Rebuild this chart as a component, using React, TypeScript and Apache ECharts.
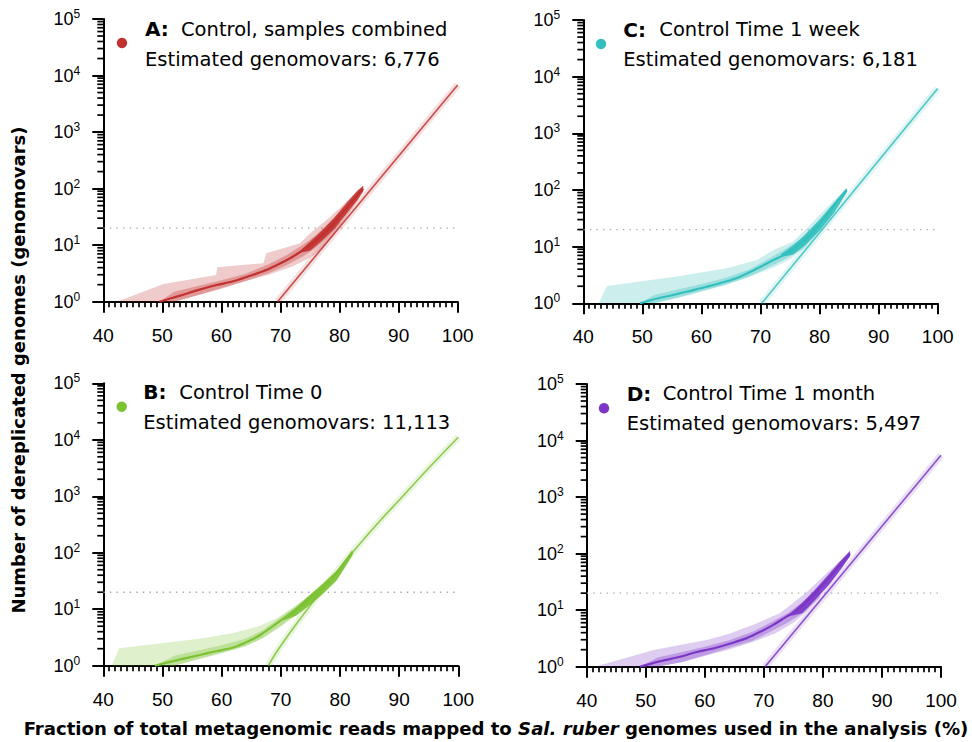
import React, { useEffect, useRef } from "react";
import * as echarts from "echarts";

type P = [number, number];

// ---------- axis / reference data ----------
const xMin = 40;
const xMax = 100;
const xStep = 10;
const yMin = 1;
const yMax = 100000;
const minorMultipliers = [2, 3, 4, 5, 6, 7, 8, 9];
const minorDecades = [1, 10, 100, 1000, 10000];
const refLevel = 20;

// ---------- panel texts ----------
const panelLetters = ["A:", "C:", "B:", "D:"];
const panelNames = ["Control, samples combined", "Control Time 1 week", "Control Time 0", "Control Time 1 month"];
const panelEstimates = ["6,776", "6,181", "11,113", "5,497"];
const panelColors = ["#c1312f", "#33bfbd", "#7cc233", "#7b36c6"];

// ---------- Panel A: Control, samples combined ----------
const aMain: P[] = [[49.5, 1], [53, 1.28], [56, 1.6], [59, 1.95], [62, 2.3], [65, 2.9], [68, 3.8], [71, 5.4], [73, 7.2], [75, 10], [77, 15], [79, 24], [81, 43], [83, 76], [84, 100]];
const aOuterUp: P[] = [[42.3, 1], [50.2, 2.06], [59.1, 2.97], [59.3, 4.06], [67.1, 4.8], [67.6, 7.2], [73.3, 10.8], [75, 16], [77.8, 28], [80, 45], [82, 72], [84, 108]];
const aOuterLo: P[] = [[42.3, 1], [52, 1], [56, 1.3], [60, 1.75], [64, 2.3], [68, 3], [72, 4.2], [75, 6], [77, 8.5], [79, 15], [81, 30], [83, 60], [84, 90]];
const aMidUp: P[] = [[49.5, 1], [52, 1.5], [56, 1.9], [60, 2.4], [64, 3.1], [68, 4.6], [71, 6.6], [74, 10.5], [76, 15], [78, 24], [80, 38]];
const aMidLo: P[] = [[49.5, 1], [52, 1], [56, 1.3], [60, 1.7], [64, 2.3], [68, 3.2], [71, 4.4], [74, 6.5], [76, 9], [78, 14], [80, 24]];
const aCloudUp: P[] = [[73.5, 8.3], [75, 11.5], [77, 18], [79, 29.5], [81, 53], [83, 92], [84, 112]];
const aCloudLo: P[] = [[73.5, 7.4], [75, 8], [77, 12], [79, 19], [81, 34], [83, 62], [84, 90]];
const aFit: P[] = [[69.5, 1], [100, 6776]];

// ---------- Panel C: Control Time 1 week ----------
const cMain: P[] = [[49.6, 1], [52, 1.18], [55.2, 1.4], [58, 1.65], [60.9, 1.96], [64, 2.4], [66.5, 2.95], [69.4, 4.1], [72.2, 5.8], [75, 8.2], [77.8, 14], [80.6, 30], [82.5, 55], [84.6, 100]];
const cOuterUp: P[] = [[42.6, 1], [44, 2.02], [56.4, 3.03], [64.3, 4.15], [69.4, 5.8], [72.2, 8.7], [75.5, 12.3], [77.8, 21], [82.3, 64], [84.6, 106]];
const cOuterLo: P[] = [[42.6, 1], [52, 1], [56, 1.25], [60, 1.6], [64, 2.1], [68, 2.9], [72, 4.2], [75, 6], [77.5, 9.5], [80, 19], [82.5, 42], [84.6, 92]];
const cMidUp: P[] = [[49.6, 1], [52, 1.4], [56, 1.75], [60, 2.2], [64, 2.8], [68, 3.9], [71, 5.8], [74, 8.8], [77, 14], [79.5, 26]];
const cMidLo: P[] = [[49.6, 1], [52, 1], [56, 1.25], [60, 1.65], [64, 2.1], [68, 2.9], [71, 4.1], [74, 5.9], [77, 9], [79.5, 17]];
const cCloudUp: P[] = [[73.5, 7.4], [75.5, 10.5], [77.5, 16], [80, 30], [82.5, 60], [84.6, 110]];
const cCloudLo: P[] = [[73.5, 6.6], [75.5, 7.2], [77.5, 10.5], [80, 19], [82.5, 40], [84.6, 90]];
const cFit: P[] = [[70.2, 1], [100, 6181]];

// ---------- Panel B: Control Time 0 ----------
const bMain: P[] = [[48.7, 1], [52, 1.22], [56.3, 1.55], [59, 1.8], [62, 2.1], [64.5, 2.7], [66.5, 3.5], [69.9, 6.2], [73.2, 11], [76.1, 20], [78.9, 37], [80.5, 60], [82.1, 102]];
const bOuterUp: P[] = [[41.4, 1], [42.7, 2.03], [56.9, 3.05], [62, 3.8], [66, 4.9], [69.3, 6.9], [72, 10.5], [74.4, 15.5], [77, 26], [80, 52], [82.1, 108]];
const bOuterLo: P[] = [[41.4, 1], [52, 1], [56, 1.3], [60, 1.65], [64, 2.2], [67, 3.1], [70, 4.9], [73, 8.3], [76, 14.5], [79, 28], [81, 56], [82.1, 92]];
const bMidUp: P[] = [[48.7, 1], [52, 1.5], [56, 1.85], [60, 2.3], [64, 3], [67, 4.3], [70, 7.3], [73, 12.5], [76, 22]];
const bMidLo: P[] = [[48.7, 1], [52, 1], [56, 1.3], [60, 1.7], [64, 2.2], [67, 3.1], [70, 5.1], [73, 8.8], [76, 16]];
const bCloudUp: P[] = [[70.5, 7.2], [72.5, 10.5], [74.5, 16.5], [77, 28], [79.5, 49], [82.1, 112]];
const bCloudLo: P[] = [[70.5, 6.4], [72.5, 7.6], [74.5, 11], [77, 18.5], [79.5, 33], [82.1, 90]];
const bFit: P[] = [[67.9, 1], [69, 1.58], [70.5, 2.69], [72.5, 5.25], [75, 11.7], [78, 29.5], [82, 97.7], [86.8, 372], [90, 851], [95, 3162], [100, 11113]];

// ---------- Panel D: Control Time 1 month ----------
const dMain: P[] = [[49, 1], [52, 1.22], [55.8, 1.5], [58.5, 1.8], [61.4, 2.1], [64.5, 2.6], [67.1, 3.2], [69.5, 4.2], [71.6, 5.5], [73.5, 7.3], [75.6, 10], [78.4, 18.6], [81.2, 39], [83, 65], [84.6, 100]];
const dOuterUp: P[] = [[41.4, 1], [51.3, 1.97], [60.3, 2.96], [64, 3.8], [68.2, 5.5], [72.7, 8.8], [77.3, 21], [80, 39], [82.5, 68], [84.6, 108]];
const dOuterLo: P[] = [[41.4, 1], [52, 1], [56, 1.2], [60, 1.55], [64, 2], [68, 2.7], [72, 3.9], [75, 6], [77, 9], [79, 16], [81.5, 33], [84.6, 92]];
const dMidUp: P[] = [[49, 1], [52, 1.45], [56, 1.8], [60, 2.25], [64, 2.9], [68, 4.1], [71, 5.9], [74, 8.8], [77, 15], [79.5, 27]];
const dMidLo: P[] = [[49, 1], [52, 1], [56, 1.2], [60, 1.6], [64, 2.15], [68, 2.85], [71, 4.1], [74, 6], [77, 9.5], [79.5, 17]];
const dCloudUp: P[] = [[74.5, 8.8], [76.5, 13.5], [78.5, 22], [81, 43], [83, 75], [84.6, 112]];
const dCloudLo: P[] = [[74.5, 7.9], [76.5, 8.8], [78.5, 14.5], [81, 28], [83, 52], [84.6, 90]];
const dFit: P[] = [[70.2, 1], [100, 5497]];

const panels = [
  { main: aMain, outerUp: aOuterUp, outerLo: aOuterLo, midUp: aMidUp, midLo: aMidLo, cloudUp: aCloudUp, cloudLo: aCloudLo, fit: aFit },
  { main: cMain, outerUp: cOuterUp, outerLo: cOuterLo, midUp: cMidUp, midLo: cMidLo, cloudUp: cCloudUp, cloudLo: cCloudLo, fit: cFit },
  { main: bMain, outerUp: bOuterUp, outerLo: bOuterLo, midUp: bMidUp, midLo: bMidLo, cloudUp: bCloudUp, cloudLo: bCloudLo, fit: bFit },
  { main: dMain, outerUp: dOuterUp, outerLo: dOuterLo, midUp: dMidUp, midLo: dMidLo, cloudUp: dCloudUp, cloudLo: dCloudLo, fit: dFit },
];

// ---------- layout (positions only) ----------
const grids = [
  { left: 103.3, top: 19, width: 354.4, height: 282.7 },
  { left: 583.3, top: 20, width: 354.4, height: 283.3 },
  { left: 103.3, top: 383.3, width: 355, height: 282.4 },
  { left: 586.7, top: 384, width: 354.3, height: 282.7 },
];
const headerPos = [
  { x: 145, y1: 29, y2: 59, dx: 122, dy: 43 },
  { x: 623.3, y1: 29.5, y2: 59.5, dx: 601, dy: 44 },
  { x: 143.3, y1: 392, y2: 422, dx: 121.7, dy: 406.7 },
  { x: 626.7, y1: 393.5, y2: 423, dx: 604, dy: 408.3 },
];

const SANS = "'Liberation Sans', Arial, sans-serif";
const VERD = "'DejaVu Sans', Verdana, sans-serif";

function hexA(hex: string, a: number) {
  const n = parseInt(hex.slice(1), 16);
  return `rgba(${(n >> 16) & 255},${(n >> 8) & 255},${n & 255},${a})`;
}

function band(idx: number, up: P[], lo: P[], fill: string, z: number) {
  const pts = up.concat(lo.slice().reverse());
  return {
    type: "custom",
    xAxisIndex: idx,
    yAxisIndex: idx,
    data: [[pts[0][0], pts[0][1]]],
    clip: true,
    silent: true,
    z,
    renderItem: (_p: any, api: any) => ({
      type: "polygon",
      shape: { points: pts.map((p) => api.coord(p)) },
      style: { fill, stroke: "none" },
    }),
  };
}

function buildOption() {
  const series: any[] = [];
  const minorData: P[] = [];
  minorDecades.forEach((d) => minorMultipliers.forEach((m) => minorData.push([xMin, d * m])));

  panels.forEach((pn, i) => {
    const col = panelColors[i];
    series.push(band(i, pn.outerUp, pn.outerLo, hexA(col, 0.25), 1));
    series.push(band(i, pn.midUp, pn.midLo, hexA(col, 0.32), 2));
    series.push({
      type: "line", xAxisIndex: i, yAxisIndex: i, data: pn.fit, symbol: "none", silent: true, z: 3,
      smooth: pn.fit.length > 2 ? 0.3 : false,
      lineStyle: { color: hexA(col, 0.15), width: 7 },
    });
    series.push({
      type: "line", xAxisIndex: i, yAxisIndex: i, data: pn.fit, symbol: "none", silent: true, z: 4,
      smooth: pn.fit.length > 2 ? 0.3 : false,
      lineStyle: { color: hexA(col, 0.85), width: 1.6 },
    });
    series.push({
      type: "line", xAxisIndex: i, yAxisIndex: i, data: pn.main, symbol: "none", silent: true, z: 5,
      smooth: 0.3,
      lineStyle: { color: col, width: 2.2 },
    });
    series.push(band(i, pn.cloudUp, pn.cloudLo, hexA(col, 0.9), 6));
    series.push({
      type: "line", xAxisIndex: i, yAxisIndex: i, data: [[xMin, refLevel], [xMax, refLevel]], symbol: "none", silent: true, z: 0,
      lineStyle: { color: "#a8a8a8", width: 1.4, type: [1.4, 5.2] },
    });
    series.push({
      type: "custom", xAxisIndex: i, yAxisIndex: i, data: minorData, silent: true, clip: false, z: 10,
      renderItem: (_p: any, api: any) => {
        const c = api.coord([api.value(0), api.value(1)]);
        return {
          type: "line",
          shape: { x1: c[0] - 6, y1: c[1], x2: c[0], y2: c[1] },
          style: { stroke: "#000", lineWidth: 1.7 },
        };
      },
    });
  });

  const graphic: any[] = [];
  headerPos.forEach((h, i) => {
    graphic.push({ type: "circle", shape: { cx: h.dx, cy: h.dy, r: 5.2 }, style: { fill: panelColors[i] } });
    graphic.push({
      type: "text", x: h.x, y: h.y1,
      style: { text: panelLetters[i], fontFamily: VERD, fontWeight: "bold", fontSize: 20, fill: "#000", verticalAlign: "middle", align: "left" },
    });
    graphic.push({
      type: "text", x: h.x + 36, y: h.y1,
      style: { text: panelNames[i], fontFamily: VERD, fontSize: 19.5, fill: "#000", verticalAlign: "middle", align: "left" },
    });
    graphic.push({
      type: "text", x: h.x, y: h.y2,
      style: { text: "Estimated genomovars: " + panelEstimates[i], fontFamily: VERD, fontSize: 19.5, fill: "#000", verticalAlign: "middle", align: "left" },
    });
  });
  graphic.push({
    type: "text", x: 18, y: 370, rotation: Math.PI / 2,
    style: { text: "Number of dereplicated genomes (genomovars)", fontFamily: VERD, fontWeight: "bold", fontSize: 18, fill: "#000", verticalAlign: "middle", align: "center" },
  });
  graphic.push({
    type: "text", x: 496, y: 728,
    style: {
      text: "{b|Fraction of total metagenomic reads mapped to }{i|Sal. ruber }{b|genomes used in the analysis (%)}",
      verticalAlign: "middle", align: "center",
      rich: {
        b: { fontFamily: VERD, fontWeight: "bold", fontSize: 18.1, fill: "#000" },
        i: { fontFamily: VERD, fontWeight: "bold", fontStyle: "italic", fontSize: 18.1, fill: "#000" },
      },
    },
  });

  return {
    animation: false,
    backgroundColor: "#fff",
    grid: grids.map((g) => ({ ...g, containLabel: false, outerBoundsMode: "none" })),
    xAxis: grids.map((_, i) => ({
      type: "value", gridIndex: i, min: xMin, max: xMax, interval: xStep,
      axisLine: { show: true, onZero: false, lineStyle: { color: "#000", width: 2 } },
      axisTick: { show: true, length: 11, lineStyle: { color: "#000", width: 2 } },
      minorTick: { show: true, splitNumber: 10, length: 5.5, lineStyle: { color: "#000", width: 1.7 } },
      splitLine: { show: false },
      minorSplitLine: { show: false },
      axisLabel: { color: "#000", fontFamily: SANS, fontSize: 19, margin: 24, showMinLabel: true, showMaxLabel: true, hideOverlap: false },
    })),
    yAxis: grids.map((_, i) => ({
      type: "log", gridIndex: i, min: yMin, max: yMax, logBase: 10,
      axisLine: { show: true, onZero: false, lineStyle: { color: "#000", width: 2 } },
      axisTick: { show: true, length: 11, lineStyle: { color: "#000", width: 2 } },
      minorTick: { show: false },
      splitLine: { show: false },
      axisLabel: {
        margin: 23, showMinLabel: true, showMaxLabel: true, hideOverlap: false,
        formatter: (v: number) => `{b|10}{s|${Math.round(Math.log10(v))}}`,
        rich: {
          b: { fontFamily: SANS, fontSize: 18, lineHeight: 22, color: "#000" },
          s: { fontFamily: SANS, fontSize: 12, lineHeight: 12, verticalAlign: "top", color: "#000" },
        },
      },
    })),
    series,
    graphic,
  };
}

export default function App() {
  const ref = useRef<HTMLDivElement>(null);
  useEffect(() => {
    if (!ref.current) return;
    const chart = echarts.init(ref.current, undefined, { renderer: "svg" });
    chart.setOption(buildOption() as any);
    return () => chart.dispose();
  }, []);
  return (
    <div
      ref={ref}
      style={{ position: "fixed", left: 0, top: 0, width: 972, height: 742, background: "#fff" }}
    />
  );
}
